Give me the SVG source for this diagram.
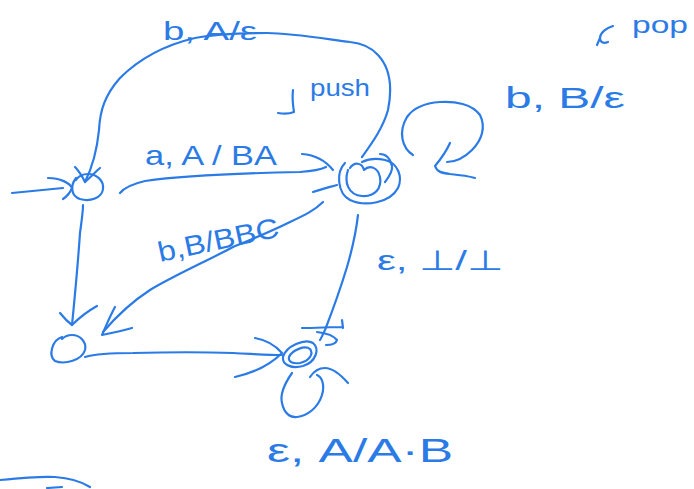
<svg xmlns="http://www.w3.org/2000/svg" width="694" height="489" viewBox="0 0 694 489">
<style>
.s{fill:none;stroke:#2b7be6;stroke-width:2.2;stroke-linecap:round;stroke-linejoin:round}
.t{fill:#2b7be6;font-family:"Liberation Sans",Arial,sans-serif}
</style>
<rect width="694" height="489" fill="#ffffff"/>
<g id="q0"><path class="s" d="M76,178 C70,186 71,196 80,199 C90,202 102,198 103,189 C104,180 96,174 88,174 C82,174 78,177 76,180"/></g>
<g id="q1">
<path class="s" d="M345,163 C336,172 337,193 350,200 C365,207 390,203 398,188 C403,177 398,163 385,160 C377,158 368,159 362,162"/>
<path class="s" d="M348,170 C344,182 348,195 362,196 C375,197 382,188 380,177 C378,168 370,164 364,170 C362,162 354,162 350,168"/>
</g>
<g id="q2"><path class="s" d="M62,337 C52,340 48,356 55,361 C65,365 82,360 85,350 C87,342 80,335 72,335 C68,335 64,337 62,339"/></g>
<g id="q3">
<path class="s" d="M283,357 C286,346 305,338 313,343 C320,349 316,362 303,366 C292,369 282,365 283,357 Z"/>
<path class="s" d="M289,357 C292,350 305,345 310,349 C314,354 309,361 300,363 C293,364 288,362 289,357 Z"/>
</g>
<g id="connectors">
<!-- start -->
<path class="s" d="M12,193 L63,188"/>
<path class="s" d="M48,178 C60,178 70,183 72,188 C70,193 66,197 63,199"/>
<!-- q0 -> q1 a,A/BA -->
<path class="s" d="M120,193 C124,188 132,184 145,181 C180,176 250,173 300,172 C315,171 322,169 326,167"/>
<path class="s" d="M302,154 C315,155 325,160 333,170 M313,192 C322,189 330,187 337,185"/>
<!-- q1 -> q0 top b,A/eps -->
<path class="s" d="M362,157 C372,143 383,128 388,110 C392,90 392,70 378,55 C370,46 360,43 350,42 C320,38 290,33 267,33 C240,33 215,34 195,38 C165,45 140,58 120,78 C105,95 100,110 99,130 C97,150 92,168 85,182"/>
<path class="s" d="M75,167 C80,172 83,178 85,182 C90,178 95,172 100,168"/>
<!-- q1 self loop b,B/eps -->
<path class="s" d="M413,155 C402,148 398,132 407,117 C414,107 425,103 440,102 C455,101 472,104 480,115 C486,127 482,140 472,150 C463,159 455,162 447,162"/>
<path class="s" d="M450,143 C446,152 440,160 435,166 C437,172 442,173 450,174 C460,175 468,176 475,178"/>
<path class="s" d="M380,154 C386,154 390,158 392,166 C393,172 388,178 385,182"/>
<!-- push / pop pointers -->
<path class="s" d="M293,90 C292,98 293,106 294,112 C289,114 284,114 278,113"/>
<path class="s" d="M613,26 C606,28 600,33 600,38 C600,42 603,44 608,42 M600,38 L597,45"/>
<!-- q1 -> q2 b,B/BBC -->
<path class="s" d="M323,202 C315,210 305,215 290,222 C270,232 250,240 233,247 C205,262 175,275 150,290 C130,303 115,318 103,332"/>
<path class="s" d="M115,307 C110,316 106,326 102,335 C112,333 122,331 132,328"/>
<!-- q0 -> q2 -->
<path class="s" d="M83,205 C83,213 81,225 80,233 C78,262 75,295 72,325"/>
<path class="s" d="M60,313 C64,318 68,322 72,325 C79,318 88,311 97,306"/>
<!-- q1 -> q3 -->
<path class="s" d="M358,215 C356,232 352,250 347,267 C340,290 332,312 325,330 C322,336 321,339 320,340"/>
<path class="s" d="M302,328 C316,328 330,327 343,327 M342,320 L343,328 M317,332 C325,333 334,336 337,340 C336,344 330,345 326,345"/>
<!-- q2 -> q3 -->
<path class="s" d="M85,357 C95,354 112,353 133,353 C170,352 205,352 233,353 C255,354 268,355 282,355"/>
<path class="s" d="M255,338 C266,340 276,346 282,353 C270,365 253,373 235,377"/>
<!-- q3 self loop eps,A/A.B -->
<path class="s" d="M292,373 C285,383 280,395 282,403 C284,413 290,418 297,417 C307,416 318,408 322,395 C325,385 322,377 317,375"/>
<path class="s" d="M310,377 C314,371 319,368 325,368 C333,368 340,374 348,383"/>
<!-- stray strokes -->
<path class="s" d="M0,480 C20,478 40,476 55,477 C70,478 82,482 90,487"/>
<path class="s" d="M47,488 L62,487"/>
</g>
<g id="labels">
<text class="t" x="163" y="40" font-size="26" textLength="94" lengthAdjust="spacingAndGlyphs">b, A/ε</text>
<text class="t" x="310" y="96" font-size="24" textLength="60" lengthAdjust="spacingAndGlyphs">push</text>
<text class="t" x="145" y="165" font-size="28" textLength="132" lengthAdjust="spacingAndGlyphs">a, A / BA</text>
<text class="t" x="505" y="108" font-size="30" textLength="120" lengthAdjust="spacingAndGlyphs">b, B/ε</text>
<text class="t" x="632" y="33" font-size="24" textLength="56" lengthAdjust="spacingAndGlyphs">pop</text>
<text class="t" x="160" y="262" font-size="28" textLength="123" lengthAdjust="spacingAndGlyphs" transform="rotate(-12 160 262)">b,B/BBC</text>
<text class="t" x="377" y="270" font-size="28" textLength="126" lengthAdjust="spacingAndGlyphs">ε, ⊥/⊥</text>
<text class="t" x="267" y="462" font-size="34" textLength="186" lengthAdjust="spacingAndGlyphs">ε, A/A·B</text>
</g>
</svg>
